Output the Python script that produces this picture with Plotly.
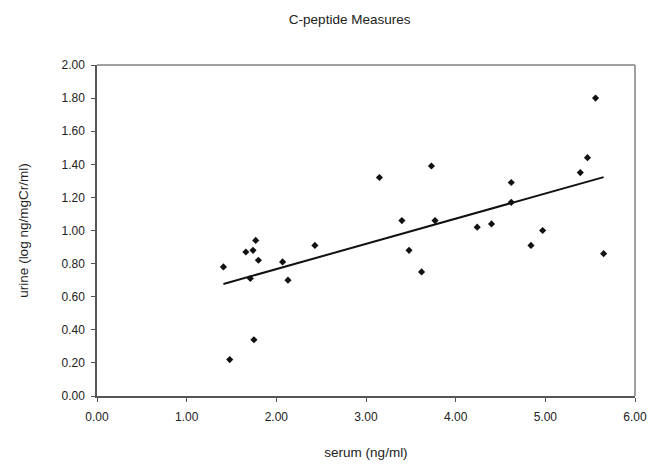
import numpy as np
import plotly.graph_objects as go

serum = [1.41, 1.66, 1.74, 1.77, 1.80, 1.71, 2.07, 2.13, 1.75, 1.48,
         2.43, 3.15, 3.40, 3.48, 3.62, 3.73, 3.77, 4.24,
         5.56, 5.47, 5.39, 4.62, 4.62, 4.40, 4.97, 4.84, 5.65]
urine = [0.78, 0.87, 0.88, 0.94, 0.82, 0.71, 0.81, 0.70, 0.34, 0.22,
         0.91, 1.32, 1.06, 0.88, 0.75, 1.39, 1.06, 1.02,
         1.80, 1.44, 1.35, 1.29, 1.17, 1.04, 1.00, 0.91, 0.86]

x_ticks = [0, 1, 2, 3, 4, 5, 6]
y_ticks = [0.0, 0.2, 0.4, 0.6, 0.8, 1.0, 1.2, 1.4, 1.6, 1.8, 2.0]

slope, intercept = np.polyfit(serum, urine, 1)
trend_x = [min(serum), max(serum)]
trend_y = [slope * v + intercept for v in trend_x]

font = "Liberation Sans, Arial, sans-serif"
txt = "#222222"

fig = go.Figure()
fig.add_trace(go.Scatter(
    x=trend_x, y=trend_y, mode="lines",
    line=dict(color="#111111", width=2), showlegend=False, hoverinfo="skip"))
fig.add_trace(go.Scatter(
    x=serum, y=urine, mode="markers",
    marker=dict(symbol="diamond", size=5.5, color="#111111"),
    showlegend=False))

# plot-area frame: top and right in light grey
fig.add_shape(type="line", xref="paper", yref="paper", x0=0, x1=1, y0=1, y1=1,
              line=dict(color="#a0a0a0", width=2))
fig.add_shape(type="line", xref="paper", yref="paper", x0=1, x1=1, y0=0, y1=1,
              line=dict(color="#a0a0a0", width=2))

fig.update_layout(
    width=656, height=469,
    margin=dict(l=97, r=21, t=65, b=73, autoexpand=False),
    paper_bgcolor="white", plot_bgcolor="white",
    font=dict(family=font, color=txt),
    title=dict(text="C-peptide Measures", x=0.533, xref="container", xanchor="center",
               y=0.959, yref="container", yanchor="middle",
               font=dict(size=13.5, family=font, color=txt)),
    xaxis=dict(range=[0, 6], tickvals=x_ticks, tickformat=".2f",
               showgrid=False, zeroline=False, automargin=False,
               showline=True, linecolor="#555555", linewidth=1.5,
               ticks="outside", ticklen=4, tickcolor="#555555",
               tickfont=dict(size=12, family=font, color=txt),
               ticklabelstandoff=5,
               title=dict(text="serum (ng/ml)", standoff=24,
                          font=dict(size=13.5, family=font, color=txt))),
    yaxis=dict(range=[0, 2], tickvals=y_ticks, tickformat=".2f",
               showgrid=False, zeroline=False, automargin=False,
               showline=True, linecolor="#555555", linewidth=1.5,
               ticks="outside", ticklen=4, tickcolor="#555555",
               tickfont=dict(size=12, family=font, color=txt),
               ticklabelstandoff=4,
               title=dict(text="urine (log ng/mgCr/ml)", standoff=30,
                          font=dict(size=13.5, family=font, color=txt))),
)

fig.write_html("out.html", config={"displayModeBar": False},
               post_script="document.body.style.margin='0';")
